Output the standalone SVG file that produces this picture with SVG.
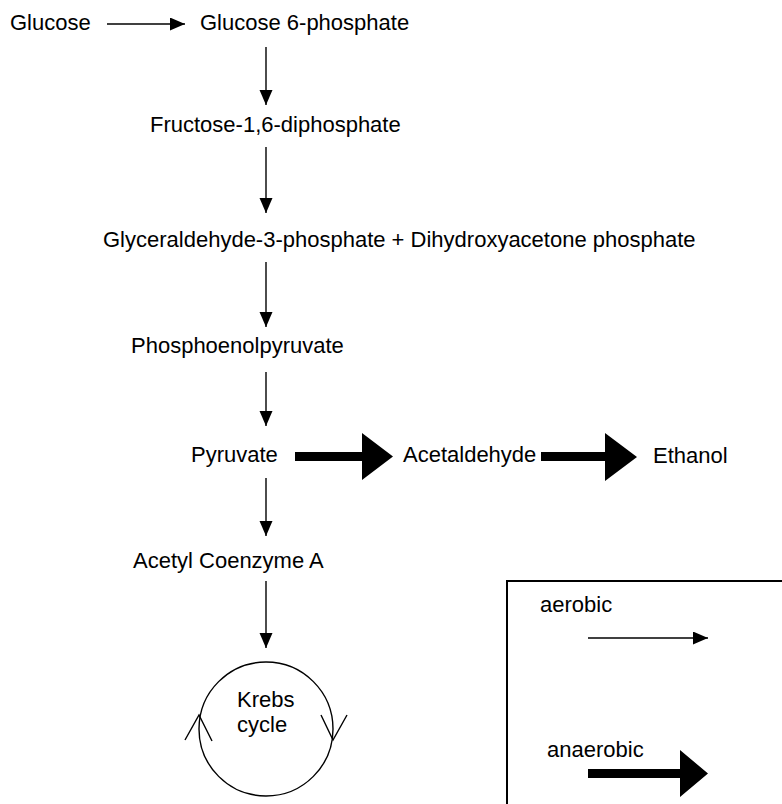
<svg xmlns="http://www.w3.org/2000/svg" width="782" height="804" viewBox="0 0 782 804">
<style>
text{font-family:"Liberation Sans",Arial,sans-serif;font-size:22px;fill:#000}
.thin{stroke:#000;stroke-width:1.4;fill:none}
.thick{fill:#000;stroke:none}
</style>
<defs>
<marker id="ah" markerUnits="userSpaceOnUse" markerWidth="16" markerHeight="14" refX="15" refY="6.5" orient="auto">
<path d="M0,0 L15,6.5 L0,13 z" fill="#000"/>
</marker>
</defs>
<rect width="782" height="804" fill="#fff"/>
<g id="glucose"><text x="10" y="30">Glucose</text></g>
<g id="g6p"><text x="200" y="30">Glucose 6-phosphate</text></g>
<g id="f16dp"><text x="150" y="132">Fructose-1,6-diphosphate</text></g>
<g id="g3p"><text x="103" y="247">Glyceraldehyde-3-phosphate + Dihydroxyacetone phosphate</text></g>
<g id="pep"><text x="131" y="353">Phosphoenolpyruvate</text></g>
<g id="pyruvate"><text x="191" y="462">Pyruvate</text></g>
<g id="acetaldehyde"><text x="403" y="462">Acetaldehyde</text></g>
<g id="ethanol"><text x="653" y="463">Ethanol</text></g>
<g id="acetylcoa"><text x="133" y="568">Acetyl Coenzyme A</text></g>
<g id="krebs">
<circle class="thin" cx="266" cy="729" r="67"/>
<polyline class="thin" points="185,740 199,715 212,741"/>
<polyline class="thin" points="321,715 333,740 347,715"/>
<text x="237" y="707">Krebs</text>
<text x="237" y="732">cycle</text>
</g>
<g id="connectors">
<line class="thin" x1="107" y1="24" x2="185" y2="24" marker-end="url(#ah)"/>
<line class="thin" x1="266" y1="47" x2="266" y2="105" marker-end="url(#ah)"/>
<line class="thin" x1="266" y1="147" x2="266" y2="213" marker-end="url(#ah)"/>
<line class="thin" x1="266" y1="262" x2="266" y2="327" marker-end="url(#ah)"/>
<line class="thin" x1="266" y1="372" x2="266" y2="426" marker-end="url(#ah)"/>
<line class="thin" x1="266" y1="478" x2="266" y2="536" marker-end="url(#ah)"/>
<line class="thin" x1="266" y1="581" x2="266" y2="648" marker-end="url(#ah)"/>
<path class="thick" d="M295,452 H362 V433 L393,456.5 L362,480 V461 H295 z"/>
<path class="thick" d="M541,452 H605 V433 L637,457 L605,481 V461 H541 z"/>
</g>
<g id="legend">
<rect x="507" y="581" width="300" height="300" fill="none" stroke="#000" stroke-width="2"/>
<text x="540" y="612">aerobic</text>
<line class="thin" x1="588" y1="638" x2="708" y2="638" marker-end="url(#ah)"/>
<text x="547" y="757">anaerobic</text>
<path class="thick" d="M588,769 H680 V750 L708,773.5 L680,797 V778 H588 z"/>
</g>
</svg>
